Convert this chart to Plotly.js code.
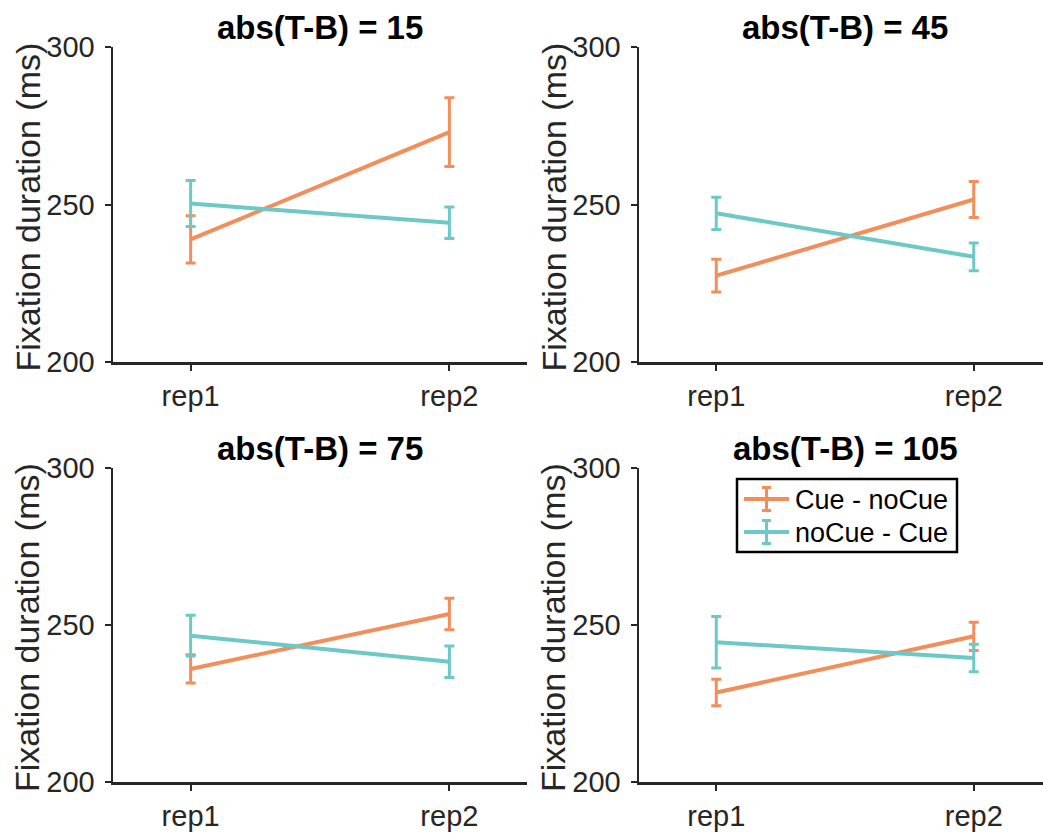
<!DOCTYPE html>
<html>
<head>
<meta charset="utf-8">
<script src="https://cdn.plot.ly/plotly-3.0.1.min.js"></script>
<style>html,body{margin:0;padding:0;background:#fff;}#chart{width:1043px;height:834px;}</style>
</head>
<body>
<div id="chart"></div>
<script>
// ---- data ----
const repLabels = ['rep1', 'rep2'];
const seriesNames = ['Cue - noCue', 'noCue - Cue'];
const panelTitles = ['abs(T-B) = 15', 'abs(T-B) = 45', 'abs(T-B) = 75', 'abs(T-B) = 105'];

const cueMean15 = [238.9, 273.0];
const cueErr15 = [7.5, 10.9];
const noCueMean15 = [250.3, 244.2];
const noCueErr15 = [7.3, 5.0];

const cueMean45 = [227.4, 251.6];
const cueErr45 = [5.2, 5.7];
const noCueMean45 = [247.2, 233.4];
const noCueErr45 = [5.1, 4.4];

const cueMean75 = [236.0, 253.5];
const cueErr75 = [4.5, 5.0];
const noCueMean75 = [246.6, 238.3];
const noCueErr75 = [6.5, 5.0];

const cueMean105 = [228.5, 246.4];
const cueErr105 = [4.2, 4.5];
const noCueMean105 = [244.5, 239.5];
const noCueErr105 = [8.2, 4.4];

const yTicks = [200, 250, 300];
const yLabel = 'Fixation duration (ms)';

// ---- styling ----
const W = 1043, H = 834;
const orange = '#F28E5A';
const teal = '#6CC9C5';
const axisColor = '#262626';
const FONT = 'Liberation Sans, Arial, Helvetica, sans-serif';
const colors = [orange, teal];

const panels = [
  {cm: cueMean15, ce: cueErr15, nm: noCueMean15, ne: noCueErr15},
  {cm: cueMean45, ce: cueErr45, nm: noCueMean45, ne: noCueErr45},
  {cm: cueMean75, ce: cueErr75, nm: noCueMean75, ne: noCueErr75},
  {cm: cueMean105, ce: cueErr105, nm: noCueMean105, ne: noCueErr105}
];

// pixel geometry of each axes box
const boxX = [[113, 527], [639, 1051]];
const boxY = [[47, 362], [468, 782]];

const px = v => v / W;
const py = v => 1 - v / H;

const traces = [];
const layout = {
  width: W, height: H,
  margin: {l: 0, r: 0, t: 0, b: 0},
  paper_bgcolor: '#ffffff', plot_bgcolor: 'rgba(0,0,0,0)',
  font: {family: FONT, color: axisColor},
  showlegend: false,
  annotations: [],
  shapes: []
};

panels.forEach((p, i) => {
  const col = i % 2, row = Math.floor(i / 2);
  const n = i + 1;
  const xa = 'xaxis' + (n === 1 ? '' : n), ya = 'yaxis' + (n === 1 ? '' : n);
  const xr = 'x' + (n === 1 ? '' : n), yr = 'y' + (n === 1 ? '' : n);
  const x0 = boxX[col][0], x1 = Math.min(boxX[col][1], W);
  const unit = (boxX[col][1] - boxX[col][0]) / 1.6;
  const rEnd = -0.3 + (x1 - x0) / unit;
  layout[xa] = {
    domain: [x0 / W, x1 / W], anchor: yr,
    type: 'category', range: [-0.3, rEnd],
    showline: true, linecolor: axisColor, linewidth: 2.5,
    ticks: 'outside', ticklen: 6, tickwidth: 2, tickcolor: axisColor,
    showgrid: false, zeroline: false, fixedrange: true,
    tickfont: {family: FONT, size: 29, color: axisColor},
    ticklabelstandoff: 1
  };
  layout[ya] = {
    domain: [1 - boxY[row][1] / H, 1 - boxY[row][0] / H], anchor: xr,
    range: [200, 300], tickvals: yTicks, ticktext: yTicks.map(String),
    showline: true, linecolor: axisColor, linewidth: 2.5,
    ticks: 'outside', ticklen: 6, tickwidth: 2, tickcolor: axisColor,
    showgrid: false, zeroline: false, fixedrange: true,
    tickfont: {family: FONT, size: 29, color: axisColor},
    ticklabelstandoff: 4
  };
  const series = [
    {y: p.cm, e: p.ce, c: orange, name: seriesNames[0]},
    {y: p.nm, e: p.ne, c: teal, name: seriesNames[1]}
  ];
  series.forEach(s => {
    traces.push({
      type: 'scatter', mode: 'lines',
      x: repLabels, y: s.y, xaxis: xr, yaxis: yr,
      name: s.name, showlegend: false,
      line: {color: s.c, width: 4},
      error_y: {type: 'data', array: s.e, visible: true, color: s.c, thickness: 3, width: 5},
      hoverinfo: 'skip'
    });
  });
  layout.annotations.push({
    text: '<b>' + panelTitles[i] + '</b>',
    xref: 'paper', yref: 'paper',
    x: px((boxX[col][0] + boxX[col][1]) / 2),
    y: py(boxY[row][0] - 20),
    xanchor: 'center', yanchor: 'middle', showarrow: false,
    font: {family: FONT, size: 33, color: '#000000'}
  });
  layout.annotations.push({
    text: yLabel, xref: 'paper', yref: 'paper',
    x: px(boxX[col][0] - 86),
    y: py((boxY[row][0] + boxY[row][1]) / 2 + 3),
    xanchor: 'center', yanchor: 'middle', textangle: -90, showarrow: false,
    font: {family: FONT, size: 34, color: axisColor}
  });
});

// ---- legend box (drawn in the bottom-right panel) ----
const legBox = {x0: 737, x1: 957, y0: 479, y1: 552};
const legRows = [499, 532];
layout.shapes.push({
  type: 'rect', xref: 'paper', yref: 'paper',
  x0: px(legBox.x0), x1: px(legBox.x1), y0: py(legBox.y1), y1: py(legBox.y0),
  fillcolor: '#ffffff', line: {color: '#000000', width: 2.5}
});
seriesNames.forEach((nm, k) => {
  const yc = legRows[k];
  const c = colors[k];
  layout.shapes.push({type: 'line', xref: 'paper', yref: 'paper',
    x0: px(744), x1: px(789), y0: py(yc), y1: py(yc), line: {color: c, width: 4}});
  layout.shapes.push({type: 'line', xref: 'paper', yref: 'paper',
    x0: px(766.5), x1: px(766.5), y0: py(yc - 11.5), y1: py(yc + 11.5), line: {color: c, width: 3}});
  layout.shapes.push({type: 'line', xref: 'paper', yref: 'paper',
    x0: px(762), x1: px(771), y0: py(yc - 11.5), y1: py(yc - 11.5), line: {color: c, width: 3}});
  layout.shapes.push({type: 'line', xref: 'paper', yref: 'paper',
    x0: px(762), x1: px(771), y0: py(yc + 11.5), y1: py(yc + 11.5), line: {color: c, width: 3}});
  layout.annotations.push({
    text: nm, xref: 'paper', yref: 'paper',
    x: px(793), y: py(yc + 1), xanchor: 'left', yanchor: 'middle', showarrow: false,
    font: {family: FONT, size: 27, color: '#000000'}
  });
});

Plotly.newPlot('chart', traces, layout, {staticPlot: true, displayModeBar: false});
</script>
</body>
</html>
